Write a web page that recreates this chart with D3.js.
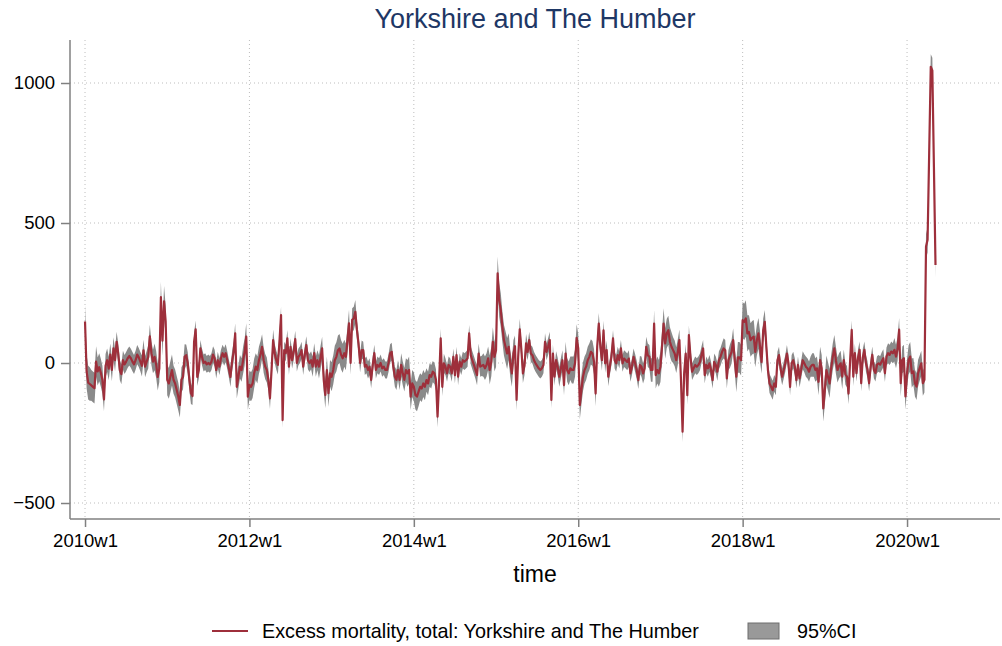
<!DOCTYPE html>
<html>
<head>
<meta charset="utf-8">
<script src="https://cdn.jsdelivr.net/npm/d3@7"></script>
<style>
  body { margin: 0; background: #fff; }
  svg { display: block; font-family: "Liberation Sans", Arial, Helvetica, sans-serif; }
</style>
</head>
<body>
<div id="chart"></div>
<script>
// weekly excess deaths, 52 weeks per year (Stata weekly dates)
const excess2010 = [148, -30, -70, -75, -80, -85, -90, 5, -30, -15, -35, -60, -130, -10, 10, -20, 30, -25, 52, 10, 76, 35, -25, -40, 10, -5, 5, 17, 25, 17, 5, -5, 10, 30, 20, 5, -10, 45, -13, 5, 22, 95, 35, 5, 22, -5, -50, -20, 235, 80, 220, 150];
const excess2011 = [-60, -73, -49, -25, -60, -73, -96, -120, -150, -60, -49, 22, 28, 0, -60, -108, -118, 76, 120, -50, -25, 52, 22, 0, 5, -5, 0, -5, 5, 30, 17, -25, 10, -13, 17, 35, 22, 35, 10, -20, -50, 5, 40, 106, -85, -50, -13, -25, 10, 40, 94, -120];
const excess2012 = [-78, -85, -73, -37, -13, -25, 10, 30, 58, 10, -13, -25, -60, -126, -25, 82, 35, 10, -7, 76, 171, -204, 46, 35, 88, -13, 58, 10, 40, 85, 0, 22, 30, 46, -13, 30, 64, 10, 0, 10, -13, 35, -13, 10, -13, 20, 52, -60, -114, -25, -108, -37];
const excess2013 = [-49, -25, 10, 22, 46, 52, 29, 17, 35, 22, 80, 142, 0, 154, 159, 183, 118, 70, 0, 46, 46, -13, -7, -25, -13, -60, -7, 35, -25, -7, -13, 0, -19, -13, -25, -25, 0, 35, 40, -13, -49, -60, -25, -60, -7, -37, -60, -25, -37, -25, -120, -73];
const excess2014 = [-85, -114, -120, -102, -85, -91, -73, -85, -61, -73, -43, -49, -31, -37, -60, -192, -61, 88, -85, -1, -13, -37, -7, -13, -37, 22, -43, 28, -49, 5, -13, 10, 5, 10, 17, 106, 28, 10, -7, -25, -43, 34, -13, -10, -7, -19, -7, 17, -25, 5, 76, 22];
const excess2015 = [46, 320, 225, 189, 130, 82, 58, 34, 58, -1, -37, 34, 60, -132, 20, 120, 50, -37, -10, 70, 40, 82, 34, 28, 10, -1, -10, -19, -25, -19, -7, 76, 40, 60, 82, -132, 34, -49, 10, -13, -49, -19, 10, -79, 34, -25, -37, -19, -25, -25, 0, 90];
const excess2016 = [52, -150, -97, -49, -25, -13, 10, 22, 40, 34, 4, -109, 58, 141, 58, 10, 117, -1, 46, -49, -13, 22, 88, 10, -1, 28, 10, 52, -1, 16, 10, 4, 16, -37, -13, 22, -1, -25, -61, -7, -13, -37, -19, 58, 28, 22, -25, -25, 141, -43, -25, -37];
const excess2017 = [-13, 58, 141, 70, 106, 117, 76, 58, 46, 34, 10, 40, 82, -61, -245, -37, 34, -115, 100, 22, -31, -19, -7, -13, -7, 4, 30, 52, -43, -7, -19, -1, -25, -61, 4, -7, -31, 10, 22, 40, 52, 46, -55, 10, 25, 40, 82, 10, -49, 20, 20, 10];
const excess2018 = [153, 147, 159, 106, 111, 82, 90, 94, 40, 82, 106, 58, 4, 117, 147, 58, -25, -73, -85, -97, -73, -85, 10, 28, -20, -49, -25, -1, 34, -1, -85, -1, 10, -13, -61, -7, -55, -25, 10, -1, -13, -19, -31, -13, -7, -7, -25, -19, -67, 10, -19, -162];
const excess2019 = [-97, -25, -49, -73, -19, 22, 52, 10, -25, -10, -1, -49, 10, -40, -49, -109, 10, 118, -49, 35, -36, 20, 47, -72, 20, 47, -1, -24, -72, -12, 29, -24, -36, -6, -1, -6, 6, 17, -36, 23, 35, 29, 41, 35, 47, 23, 50, 119, -72, 11, 17, -119];
const excess2020 = [-36, 11, 23, -36, -30, -72, -84, -36, -18, -1, -72, -60, 416, 440, 750, 1058, 1045, 700, 350];

// 95% CI half-width, one value per 4-week block
const ciHalf2010 = [60, 55, 50, 42, 40, 36, 34, 34, 34, 38, 42, 48, 55];
const ciHalf2011 = [55, 50, 45, 38, 32, 30, 30, 30, 30, 32, 36, 42, 48];
const ciHalf2012 = [52, 48, 45, 38, 34, 30, 30, 30, 30, 32, 36, 42, 48];
const ciHalf2013 = [52, 52, 48, 42, 34, 30, 30, 30, 30, 32, 36, 42, 48];
const ciHalf2014 = [52, 48, 42, 38, 34, 30, 30, 30, 30, 32, 36, 42, 52];
const ciHalf2015 = [60, 55, 48, 38, 34, 30, 30, 30, 30, 32, 36, 42, 48];
const ciHalf2016 = [52, 48, 45, 38, 34, 30, 30, 30, 30, 32, 36, 42, 48];
const ciHalf2017 = [55, 52, 46, 38, 34, 30, 30, 30, 30, 32, 36, 42, 55];
const ciHalf2018 = [65, 60, 55, 42, 34, 30, 30, 30, 30, 32, 36, 42, 48];
const ciHalf2019 = [52, 48, 45, 38, 34, 30, 30, 30, 30, 32, 36, 42, 48];
const ciHalf2020 = [52, 48, 45, 45, 45];

const xTickWeeks = [0, 104, 208, 312, 416, 520];
const xTickLabels = ["2010w1", "2012w1", "2014w1", "2016w1", "2018w1", "2020w1"];
const yTicks = [-500, 0, 500, 1000];

const seriesName = "Excess mortality, total: Yorkshire and The Humber";
const ciName = "95%CI";

const values = [].concat(excess2010, excess2011, excess2012, excess2013, excess2014,
  excess2015, excess2016, excess2017, excess2018, excess2019, excess2020);
const ciHalf = [].concat(ciHalf2010, ciHalf2011, ciHalf2012, ciHalf2013, ciHalf2014,
  ciHalf2015, ciHalf2016, ciHalf2017, ciHalf2018, ciHalf2019, ciHalf2020);

const data = values.map((v, i) => {
  const h = ciHalf[Math.floor(i / 4)];
  return { week: i, value: v, lo: v - h, hi: v + h };
});

const W = 1002, H = 646;
const plot = { left: 70, right: 1000, top: 40, bottom: 519 };

const svg = d3.select("#chart").append("svg")
  .attr("width", W)
  .attr("height", H);

const x = d3.scaleLinear().domain([-9.5, 578.8]).range([plot.left, plot.right]);
const y = d3.scaleLinear().domain([-557.1, 1153.6]).range([plot.bottom, plot.top]);

// title
svg.append("text")
  .attr("x", (plot.left + plot.right) / 2)
  .attr("y", 28)
  .attr("text-anchor", "middle")
  .style("font-size", "27px")
  .style("fill", "#1e3765")
  .text("Yorkshire and The Humber");

// grid
const grid = svg.append("g");
grid.selectAll(".hg").data(yTicks).enter().append("line")
  .attr("x1", plot.left).attr("x2", plot.right)
  .attr("y1", d => y(d)).attr("y2", d => y(d))
  .attr("stroke", "#bdbdbd").attr("stroke-width", 1)
  .attr("stroke-dasharray", "1,3");
grid.selectAll(".vg").data(xTickWeeks).enter().append("line")
  .attr("x1", d => x(d)).attr("x2", d => x(d))
  .attr("y1", plot.top).attr("y2", plot.bottom)
  .attr("stroke", "#bdbdbd").attr("stroke-width", 1)
  .attr("stroke-dasharray", "1,3");

// CI band
const area = d3.area()
  .x(d => x(d.week))
  .y0(d => y(d.lo))
  .y1(d => y(d.hi));

svg.append("path")
  .datum(data)
  .attr("fill", "#8a8a8a")
  .attr("d", area);

// excess line
const line = d3.line()
  .x(d => x(d.week))
  .y(d => y(d.value));

svg.append("path")
  .datum(data)
  .attr("fill", "none")
  .attr("stroke", "#9e2f3b")
  .attr("stroke-width", 2.2)
  .attr("stroke-linejoin", "round")
  .attr("d", line);

// axes
const yAxis = svg.append("g")
  .attr("transform", `translate(${plot.left},0)`)
  .call(d3.axisLeft(y).tickValues(yTicks).tickFormat(d3.format("d")).tickSize(9).tickPadding(6));
yAxis.select(".domain").attr("d", `M0,${plot.top}V${plot.bottom}`);

const xAxis = svg.append("g")
  .attr("transform", `translate(0,${plot.bottom})`)
  .call(d3.axisBottom(x).tickValues(xTickWeeks).tickFormat((d, i) => xTickLabels[i]).tickSize(8).tickPadding(7));
xAxis.select(".domain").attr("d", `M${plot.left},0H${plot.right}`);

svg.selectAll(".domain").attr("stroke", "#808080").attr("stroke-width", 1.5);
svg.selectAll(".tick line").attr("stroke", "#808080").attr("stroke-width", 1.5);
svg.selectAll(".tick text")
  .style("font-size", "18.5px")
  .style("font-family", '"Liberation Sans", Arial, sans-serif')
  .attr("fill", "#000");

// x title
svg.append("text")
  .attr("x", (plot.left + plot.right) / 2)
  .attr("y", 582)
  .attr("text-anchor", "middle")
  .style("font-size", "23px")
  .text("time");

// legend
const legend = svg.append("g");
legend.append("line")
  .attr("x1", 212).attr("x2", 248)
  .attr("y1", 631).attr("y2", 631)
  .attr("stroke", "#9e2f3b").attr("stroke-width", 2.2);
legend.append("text")
  .attr("x", 262).attr("y", 638)
  .style("font-size", "19.8px")
  .text(seriesName);
legend.append("rect")
  .attr("x", 748).attr("y", 623)
  .attr("width", 31).attr("height", 16)
  .attr("fill", "#999").attr("stroke", "#6e6e6e").attr("stroke-width", 1);
legend.append("text")
  .attr("x", 797).attr("y", 638)
  .style("font-size", "19.8px")
  .text(ciName);
</script>
</body>
</html>
